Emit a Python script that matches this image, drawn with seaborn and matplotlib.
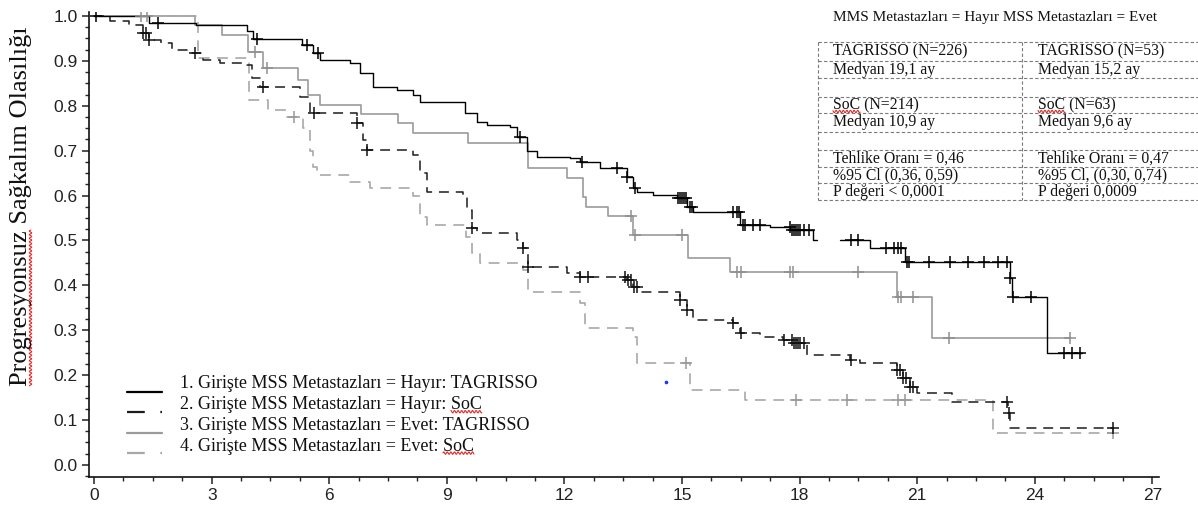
import numpy as np
import pandas as pd
import seaborn as sns
import matplotlib.pyplot as plt
from matplotlib.lines import Line2D
from matplotlib.ticker import MultipleLocator, FormatStrFormatter

# ---- values (months, progression-free probability) ----
# 1. Hayir: TAGRISSO (black solid)
hayir_tag_t = [0, 1.4, 2.6, 3.9, 4.05, 5.3, 5.59, 5.77, 6.53, 6.79,
               7.12, 7.73, 8.14, 8.32, 9.46, 9.77, 10.03, 10.6, 10.8, 11.05,
               11.3, 12.14, 12.4, 12.9, 13.6, 13.75, 13.85, 14.26, 14.87, 15.13,
               15.28, 16.48, 17.24, 17.76, 18.34, 19.8, 20.69, 23.37, 23.42, 24.31]
hayir_tag_s = [1.0, 0.985, 0.98, 0.967, 0.948, 0.935, 0.917, 0.902, 0.895, 0.873,
               0.842, 0.835, 0.824, 0.809, 0.784, 0.764, 0.757, 0.753, 0.73, 0.70,
               0.686, 0.684, 0.675, 0.661, 0.641, 0.617, 0.608, 0.601, 0.595, 0.575,
               0.563, 0.535, 0.53, 0.523, 0.501, 0.483, 0.452, 0.416, 0.374, 0.249]
hayir_tag_end = 25.2
hayir_tag_gap = (18.45, 19.03)
hayir_tag_cens = [0.05, 1.63, 4.15, 5.43, 5.7, 10.87, 12.45, 13.34, 13.6, 13.8,
                  14.9, 14.95, 15.0, 15.05, 15.1, 15.2, 15.25, 16.3, 16.4, 16.45,
                  16.55, 16.6, 16.8, 17.0, 17.75, 17.8, 17.85, 17.9, 17.95, 18.0,
                  18.1, 18.25, 19.3, 19.5, 20.2, 20.4, 20.5, 20.6, 20.75, 20.8,
                  21.3, 21.85, 22.3, 22.7, 23.05, 23.3, 23.37, 23.45, 23.9, 24.75,
                  24.95, 25.15]

# 2. Hayir: SoC (black dashed)
hayir_soc_t = [0, 0.4, 0.9, 1.25, 1.4, 1.7, 2.0, 2.5, 2.78, 3.2,
               3.9, 4.03, 4.23, 5.26, 5.5, 6.7, 6.87, 6.96, 8.14, 8.32,
               8.5, 9.41, 9.52, 9.64, 9.77, 10.8, 10.94, 11.07, 12.07, 12.4,
               13.6, 13.75, 13.93, 14.95, 15.13, 15.28, 16.3, 16.48, 16.99, 17.58,
               17.83, 18.19, 19.29, 19.54, 20.48, 20.64, 20.82, 21.0, 21.89, 23.32,
               23.37]
hayir_soc_s = [1.0, 0.99, 0.98, 0.962, 0.947, 0.94, 0.924, 0.917, 0.902, 0.895,
               0.891, 0.862, 0.842, 0.82, 0.784, 0.762, 0.724, 0.702, 0.69, 0.65,
               0.608, 0.597, 0.568, 0.528, 0.517, 0.501, 0.483, 0.441, 0.428, 0.419,
               0.412, 0.397, 0.385, 0.367, 0.345, 0.323, 0.316, 0.294, 0.285, 0.278,
               0.272, 0.245, 0.234, 0.227, 0.212, 0.194, 0.174, 0.16, 0.14, 0.116,
               0.082]
hayir_soc_end = 26.0
hayir_soc_cens = [1.25, 1.32, 1.4, 2.58, 4.3, 5.6, 6.7, 6.96, 9.64, 10.94,
                  11.07, 12.4, 12.6, 13.55, 13.62, 13.7, 13.78, 13.86, 14.95, 15.13,
                  16.3, 16.5, 17.6, 17.8, 17.85, 17.9, 17.95, 18.0, 18.1, 19.3,
                  20.48, 20.55, 20.64, 20.72, 20.82, 20.9, 23.3, 23.35, 26.0]

# 3. Evet: TAGRISSO (grey solid)
evet_tag_t = [0, 2.58, 3.27, 3.93, 4.3, 5.2, 5.45, 5.77, 6.8, 7.76,
              8.14, 9.55, 11.07, 12.07, 12.47, 12.55, 13.1, 13.75, 15.15, 16.23,
              20.48, 21.38]
evet_tag_s = [1.0, 0.98, 0.958, 0.92, 0.884, 0.857, 0.824, 0.802, 0.782, 0.762,
              0.739, 0.717, 0.661, 0.639, 0.597, 0.575, 0.555, 0.512, 0.461, 0.430,
              0.374, 0.283]
evet_tag_end = 24.9
evet_tag_cens = [1.2, 1.35, 4.1, 4.4, 13.7, 13.8, 15.0, 16.4, 16.5, 17.75,
                 17.82, 19.5, 20.5, 20.6, 20.9, 21.8, 24.9]

# 4. Evet: SoC (grey dashed)
evet_soc_t = [0, 2.65, 3.95, 4.44, 4.92, 5.33, 5.5, 5.59, 5.69, 6.53,
              7.05, 8.14, 8.32, 8.5, 9.5, 9.65, 9.85, 10.95, 11.07, 12.4,
              12.53, 13.75, 13.85, 15.2, 16.6, 22.93]
evet_soc_s = [1.0, 0.906, 0.813, 0.79, 0.776, 0.75, 0.70, 0.664, 0.646, 0.63,
              0.617, 0.60, 0.552, 0.535, 0.508, 0.472, 0.45, 0.434, 0.385, 0.36,
              0.305, 0.285, 0.227, 0.167, 0.145, 0.071]
evet_soc_end = 26.0
evet_soc_cens = [5.1, 15.1, 17.9, 19.2, 20.5, 20.7, 26.0]

legend_labels = ["1. Girişte MSS Metastazları = Hayır: TAGRISSO",
                 "2. Girişte MSS Metastazları = Hayır: SoC",
                 "3. Girişte MSS Metastazları = Evet: TAGRISSO",
                 "4. Girişte MSS Metastazları = Evet: SoC"]

table_title = "MMS Metastazları = Hayır MSS Metastazları = Evet"
table_left = ["TAGRISSO (N=226)", "Medyan 19,1 ay", "", "SoC (N=214)", "Medyan 10,9 ay", "",
              "Tehlike Oranı = 0,46", "%95 Cl (0,36, 0,59)", "P değeri < 0,0001"]
table_right = ["TAGRISSO (N=53)", "Medyan 15,2 ay", "", "SoC (N=63)", "Medyan 9,6 ay", "",
               "Tehlike Oranı = 0,47", "%95 Cl, (0,30, 0,74)", "P değeri 0,0009"]

y_label = "Progresyonsuz Sağkalım Olasılığı"


def surv_at(times, surv, when):
    idx = np.searchsorted(times, when, side="right") - 1
    return np.asarray(surv)[idx]


def step_frame(times, surv, end, gap=None):
    t = np.append(np.asarray(times, float), end)
    s = np.append(np.asarray(surv, float), surv[-1])
    if gap is None:
        return pd.DataFrame({"t": t, "s": s, "seg": 0})
    a, b = gap
    left = pd.DataFrame({"t": np.append(t[t < a], a),
                         "s": np.append(s[t < a], surv_at(times, surv, a)), "seg": 0})
    right = pd.DataFrame({"t": np.insert(t[t > b], 0, b),
                          "s": np.insert(s[t > b], 0, surv_at(times, surv, b)), "seg": 1})
    return pd.concat([left, right], ignore_index=True)


sns.set_theme(style="ticks")
plt.rcParams["font.family"] = ["Liberation Sans Narrow", "Liberation Sans", "DejaVu Sans"]
SERIF = ["Liberation Serif", "DejaVu Serif"]

W, H = 1198, 511
fig = plt.figure(figsize=(W / 100, H / 100), dpi=100)
ax = fig.add_axes([89 / W, 1 - 477 / H, (1159 - 89) / W, (477 - 12) / H])

DASH = (0, (6.5, 4.5))
groups = [
    (evet_tag_t, evet_tag_s, evet_tag_end, None, evet_tag_cens, "#9b9b9b", "-", "#8f8f8f", 1.2),
    (evet_soc_t, evet_soc_s, evet_soc_end, None, evet_soc_cens, "#a8a8a8", DASH, "#999999", 1.2),
    (hayir_soc_t, hayir_soc_s, hayir_soc_end, None, hayir_soc_cens, "#1c1c1c", DASH, "#111111", 1.1),
    (hayir_tag_t, hayir_tag_s, hayir_tag_end, hayir_tag_gap, hayir_tag_cens, "#000000", "-", "#000000", 1.0),
]

for t, s, end, gap, cens, col, ls, mcol, lw in groups:
    assert len(t) == len(s)
    df = step_frame(t, s, end, gap)
    sns.lineplot(data=df, x="t", y="s", units="seg", estimator=None, sort=False,
                 drawstyle="steps-post", color=col, linewidth=lw, linestyle=ls,
                 legend=False, ax=ax)
    cdf = pd.DataFrame({"t": cens, "s": surv_at(t, s, cens)})
    sns.scatterplot(data=cdf, x="t", y="s", marker="+", s=75, color=mcol,
                    linewidth=1.1, legend=False, ax=ax, zorder=3)

ax.set_xlim(-0.13, 27.17)
ax.set_ylim(-0.027, 1.009)
ax.xaxis.set_major_locator(MultipleLocator(3))
ax.xaxis.set_minor_locator(MultipleLocator(0.75))
ax.yaxis.set_major_locator(MultipleLocator(0.1))
ax.yaxis.set_minor_locator(MultipleLocator(0.025))
ax.yaxis.set_major_formatter(FormatStrFormatter("%.1f"))
ax.tick_params(which="major", length=5, width=1.1, labelsize=12.5, colors="#222222", pad=3)
ax.tick_params(which="minor", length=3, width=1.0, colors="#222222")
for side in ["top", "right"]:
    ax.spines[side].set_visible(False)
for side in ["left", "bottom"]:
    ax.spines[side].set_linewidth(1.2)
    ax.spines[side].set_color("#111111")
ax.set_xlabel("")
ax.set_ylabel("")

ylab = fig.text(21 / W, 1 - 206 / H, y_label, rotation=90, ha="center", va="center",
                fontsize=19, family=SERIF, color="#111111")

# legend, drawn by hand to keep the offset between swatch and text
legend_texts = []
for i, (lab, g) in enumerate(zip(legend_labels, [groups[3], groups[2], groups[0], groups[1]])):
    col, ls = g[5], g[6]
    ys = 392 + 20.3 * i
    yt = 384 + 20.7 * i
    fig.add_artist(Line2D([127 / W, 162 / W], [1 - ys / H, 1 - ys / H], color=col,
                          linewidth=1.6, linestyle=(0, (8, 7)) if ls != "-" else "-"))
    legend_texts.append(fig.text(180 / W, 1 - yt / H, lab, ha="left", va="center",
                                 fontsize=13, family=SERIF, color="#111111"))

# statistics table in the top right
fig.text(833 / W, 1 - 17 / H, table_title, ha="left", va="center", fontsize=11,
         family=SERIF, color="#111111")
rows = [42, 61, 78, 97, 113, 132, 150, 167, 183, 200]
dash = dict(color="#7a7a7a", linewidth=0.8, linestyle=(0, (3, 2)))
for r in rows:
    fig.add_artist(Line2D([818 / W, 1.0], [1 - r / H, 1 - r / H], **dash))
for cx in [818, 1022]:
    fig.add_artist(Line2D([cx / W, cx / W], [1 - rows[0] / H, 1 - rows[-1] / H], **dash))
table_texts = []
for i, (a, b) in enumerate(zip(table_left, table_right)):
    yc = (rows[i] + rows[i + 1]) / 2
    for cx, txt in [(833, a), (1038, b)]:
        table_texts.append(fig.text(cx / W, 1 - yc / H, txt, ha="left", va="center",
                                    fontsize=11.3, family=SERIF, color="#111111"))

# stray blue pixel present in the source image
fig.add_artist(Line2D([666 / W], [1 - 382 / H], marker="o", markersize=1.6,
                      color="#2030ff", linestyle="none"))

# red spell-check squiggles that appear in the source image
fig.canvas.draw()
rend = fig.canvas.get_renderer()


def text_width(txt, like):
    tmp = fig.text(0, 0, txt, fontsize=like.get_fontsize(), family=SERIF)
    w = tmp.get_window_extent(rend).width if txt else 0.0
    tmp.remove()
    return w


def squiggle(a, b, c, vertical=False):
    u = np.linspace(a, b, max(int(abs(b - a)) * 3, 4))
    v = c + 1.2 * np.sin(u * 2 * np.pi / 3.6)
    xs, ys = (v, u) if vertical else (u, v)
    fig.add_artist(Line2D(xs / W, ys / H, color="#e32b2b", linewidth=0.8))


def mark_word(tobj, word):
    s = tobj.get_text()
    k = s.find(word)
    bb = tobj.get_window_extent(rend)
    x0 = bb.x0 + text_width(s[:k], tobj)
    x1 = bb.x0 + text_width(s[:k + len(word)], tobj)
    squiggle(x0, x1, bb.y0 + 1.5)


for tobj in legend_texts + table_texts:
    if "SoC" in tobj.get_text():
        mark_word(tobj, "SoC")

bb = ylab.get_window_extent(rend)
frac = text_width("Progresyonsuz", ylab) / text_width(y_label, ylab)
squiggle(bb.y0, bb.y0 + frac * bb.height, bb.x1 - 1.5, vertical=True)

fig.savefig("out.png", dpi=100)
